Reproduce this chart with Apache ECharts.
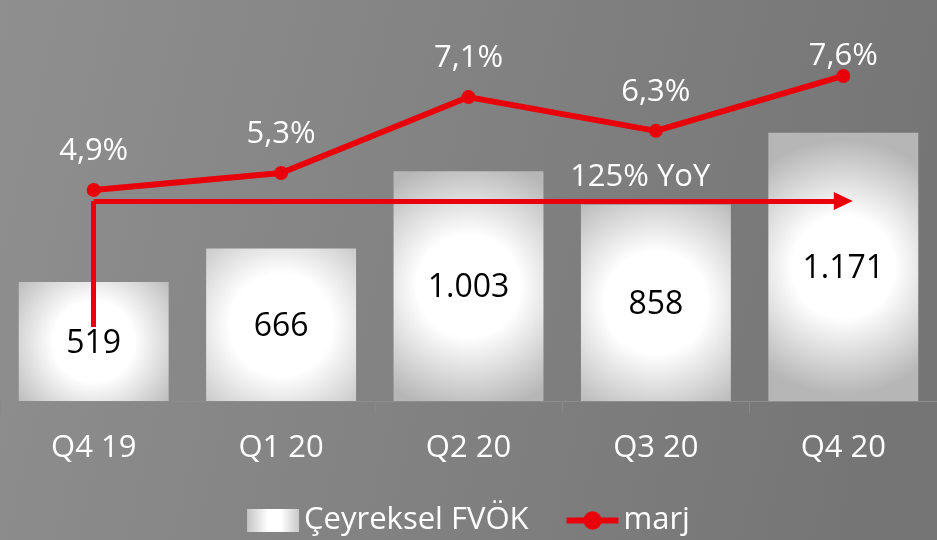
<!DOCTYPE html>
<html>
<head>
<meta charset="utf-8">
<script src="https://cdn.jsdelivr.net/npm/echarts@6/dist/echarts.min.js"></script>
<style>
  html, body { margin: 0; padding: 0; }
  #chart { width: 937px; height: 540px; }
</style>
</head>
<body>
<div id="chart"></div>
<script>
// quarters and values
var quarters = ['Q4 19', 'Q1 20', 'Q2 20', 'Q3 20', 'Q4 20']
var fvok = [519, 666, 1003, 858, 1171]
var marjPct = [4.9, 5.3, 7.1, 6.3, 7.6]
var yoyText = '125% YoY'

var RED = '#e8000b'
var FONT = 'Open Sans'

function thousands (v) {
  return String(v).replace(/\B(?=(\d{3})+(?!\d))/g, '.')
}
function pct (v) {
  return v.toFixed(1).replace('.', ',') + '%'
}

var barFill = new echarts.graphic.RadialGradient(0.5, 0.5, 0.85, [
  { offset: 0, color: '#ffffff' },
  { offset: 0.4, color: '#ffffff' },
  { offset: 1, color: '#b6b6b6' }
])
var legendFill = new echarts.graphic.LinearGradient(0, 0, 1, 0, [
  { offset: 0, color: '#c4c4c4' },
  { offset: 0.4, color: '#ffffff' },
  { offset: 0.65, color: '#ffffff' },
  { offset: 1, color: '#c8c8c8' }
])

// last label sits closer to the point (top of the slide)
var marjData = marjPct.map(function (v, i) {
  if (i === marjPct.length - 1) {
    return { value: v, label: { distance: -3 } }
  }
  return v
})

var option = {
  animation: false,
  backgroundColor: new echarts.graphic.LinearGradient(0, 0, 1, 0.4, [
    { offset: 0, color: '#8f8f8f' },
    { offset: 1, color: '#757575' }
  ]),
  textStyle: { fontFamily: FONT },
  grid: { left: 0, right: 0, top: 0, bottom: 139, containLabel: false },
  legend: {
    left: 'center',
    top: 500,
    itemWidth: 52,
    itemHeight: 23,
    itemGap: 35,
    textStyle: { color: '#ffffff', fontSize: 31, fontFamily: FONT },
    data: [
      { name: 'Çeyreksel FVÖK', icon: 'rect', itemStyle: { color: legendFill } },
      { name: 'marj', lineStyle: { width: 6, color: RED }, itemStyle: { color: RED } }
    ]
  },
  xAxis: {
    type: 'category',
    data: quarters,
    axisLine: { lineStyle: { color: '#8d8d8d', width: 1 } },
    axisTick: { show: true, length: 12, lineStyle: { color: '#888888' } },
    axisLabel: { color: '#ffffff', fontSize: 31, margin: 32, fontFamily: FONT }
  },
  yAxis: [
    { type: 'value', min: 0, max: 1750, show: false, splitLine: { show: false } },
    { type: 'value', min: -0.1, max: 9.4, show: false, splitLine: { show: false } }
  ],
  series: [
    {
      name: 'Çeyreksel FVÖK',
      type: 'bar',
      data: fvok,
      barWidth: '80%',
      itemStyle: { color: barFill },
      label: {
        show: true,
        position: 'inside',
        offset: [0, 2],
        color: '#000000',
        fontSize: 32,
        fontFamily: FONT,
        formatter: function (p) { return thousands(p.value) }
      },
      markLine: {
        silent: true,
        animation: false,
        symbol: ['none', 'triangle'],
        symbolSize: [18, 19],
        lineStyle: { color: RED, width: 5, type: 'solid' },
        label: { show: false },
        data: [
          [
            { coord: [quarters[0], 873], symbol: 'none' },
            { coord: [quarters[0], 323], symbol: 'none' }
          ],
          [
            { coord: [quarters[0], 873] },
            {
              coord: [quarters[4], 873],
              label: {
                show: true,
                position: 'insideEndTop',
                distance: [133, 8],
                formatter: yoyText,
                color: '#ffffff',
                fontSize: 31,
                fontFamily: FONT
              }
            }
          ]
        ]
      }
    },
    {
      name: 'marj',
      type: 'line',
      yAxisIndex: 1,
      data: marjData,
      symbol: 'circle',
      symbolSize: 14,
      z: 4,
      lineStyle: { color: RED, width: 6 },
      itemStyle: { color: RED },
      label: {
        show: true,
        position: 'top',
        distance: 16,
        color: '#ffffff',
        fontSize: 31,
        fontFamily: FONT,
        formatter: function (p) { return pct(p.value) }
      }
    }
  ]
}

var myChart = echarts.init(document.getElementById('chart'))
myChart.setOption(option)
</script>
</body>
</html>
